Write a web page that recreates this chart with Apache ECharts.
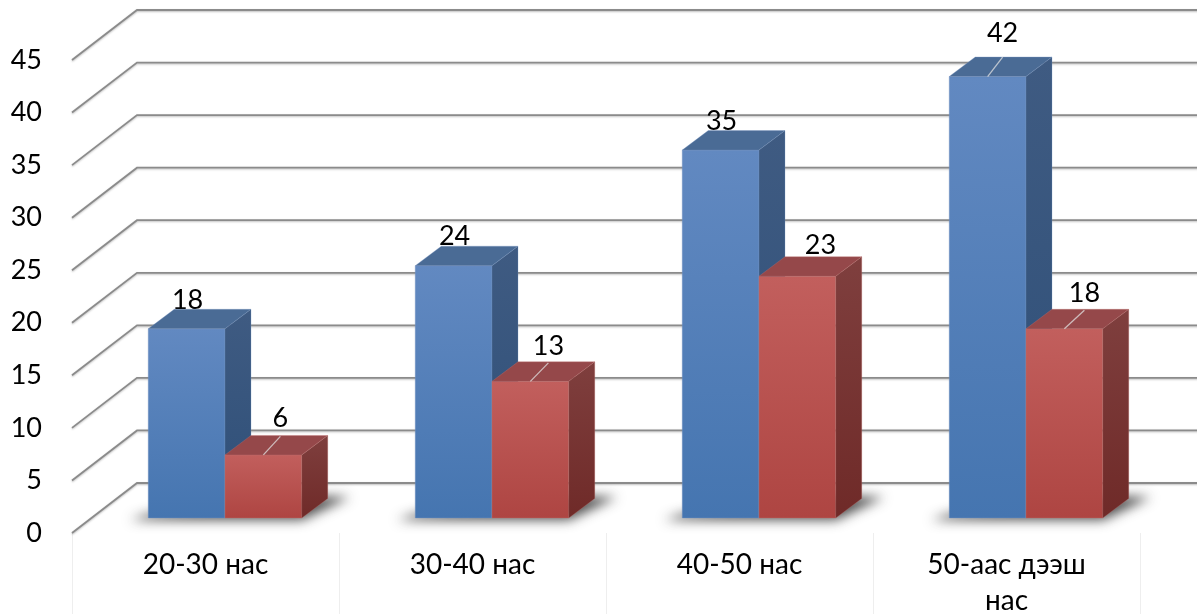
<!DOCTYPE html>
<html><head><meta charset="utf-8">
<style>html,body{margin:0;padding:0;background:#fff}#c{width:1197px;height:614px}</style>
<script src="https://cdn.jsdelivr.net/npm/echarts@6/dist/echarts.min.js"></script>
</head><body><div id="c"></div>
<script>
const categories = ['20-30 нас', '30-40 нас', '40-50 нас', '50-аас дээш\nнас'];
const blueValues = [18, 24, 35, 42];
const redValues = [6, 13, 23, 18];
const yTicks = [0, 5, 10, 15, 20, 25, 30, 35, 40, 45];

// [dx, dy, hasLeader] of each data label, relative to the bar's top-front-centre
const blueNudge = [[1, -29, 0], [1, -29, 0], [1, -29, 0], [15, -43, 1]];
const redNudge = [[17, -37, 1], [18, -35, 1], [23, -31, 0], [20, -36, 1]];

const FONT = 'Lato, "Open Sans"';
const WALL = [65, -50];     // floor depth: front edge -> back wall
const BAR_OFF = [19.5, -15];  // bars stand this far back from the front edge
const DEPTH = [26, -19.5];  // depth of a bar
const BAR_W = 0.2875;       // bar width as part of a category band
const FAR = 3000;           // the floor shadow's caster sits off-canvas, only its blur shows

const grad = (a, b) => new echarts.graphic.LinearGradient(0, 0, 0, 1, [{offset: 0, color: a}, {offset: 1, color: b}]);

function wallItem(params, api) {
  const p = api.coord([0, api.value(1)]);
  const x0 = params.coordSys.x, w = params.coordSys.width;
  return {type: 'polyline', silent: true, shape: {points: [[x0, p[1]], [x0 + WALL[0], p[1] + WALL[1]], [x0 + w + WALL[0], p[1] + WALL[1]]]},
    style: {stroke: '#8b8b8b', lineWidth: 1.8, fill: null, shadowColor: 'rgba(0,0,0,.25)', shadowBlur: 2, shadowOffsetY: 1}};
}
function shadowItem(params, api) {
  const p = api.coord([api.value(0), 0]);
  const bw = api.size([1, 0])[0] * BAR_W;
  const L = p[0] + BAR_OFF[0] - bw, R = p[0] + BAR_OFF[0] + bw, y = p[1] + BAR_OFF[1];
  const pts = [[L - 18, y + 2], [R, y + 2], [R + 48, y - 21], [R, y - 22], [L, y - 4]];
  return {type: 'polygon', silent: true, shape: {points: pts.map(q => [q[0] - FAR, q[1]])},
    style: {fill: '#000', shadowColor: 'rgba(60,60,60,.9)', shadowBlur: 12, shadowOffsetX: FAR}};
}
function barItem(colors, side, nudge) {
  return function (params, api) {
    const i = api.value(0), v = api.value(1);
    const c = api.coord([i, v]), b = api.coord([i, 0]);
    const bw = api.size([1, 0])[0] * BAR_W;
    const x0 = c[0] + BAR_OFF[0] + (side < 0 ? -bw : 0), x1 = x0 + bw;
    const yt = c[1] + BAR_OFF[1], yb = b[1] + BAR_OFF[1];
    const dx = DEPTH[0], dy = DEPTH[1];
    const n = nudge[params.dataIndex];
    const cx = (x0 + x1) / 2;
    const kids = [
      {type: 'text', silent: true, style: {x: cx + n[0], y: yt + n[1], text: String(v), font: '27px ' + FONT, fill: '#000', align: 'center', verticalAlign: 'middle'}},
      {type: 'rect', shape: {x: x0, y: yt, width: bw, height: yb - yt}, style: {fill: grad(colors.frontTop, colors.frontBottom), stroke: colors.edge, lineWidth: .6}},
      {type: 'polygon', shape: {points: [[x0, yt], [x0 + dx, yt + dy], [x1 + dx, yt + dy], [x1, yt]]}, style: {fill: colors.top, stroke: colors.edge, lineWidth: .5}},
      {type: 'polygon', shape: {points: [[x1, yt], [x1 + dx, yt + dy], [x1 + dx, yb + dy], [x1, yb]]}, style: {fill: grad(colors.sideTop, colors.sideBottom), stroke: colors.edge, lineWidth: .4}}
    ];
    if (n[2]) kids.push({type: 'line', silent: true, shape: {x1: cx, y1: yt, x2: cx + n[0], y2: yt + dy + (n[0] < 16 ? 0 : 1)},
      style: {stroke: 'rgba(225,225,225,.75)', lineWidth: 1.3}});
    return {type: 'group', children: kids};
  };
}
const blue = {frontTop: '#6289c1', frontBottom: '#4575b0', top: '#4a6b95', sideTop: '#3f5b82', sideBottom: '#2e4f78', edge: 'rgba(120,150,195,.7)'};
const red = {frontTop: '#c25f5d', frontBottom: '#ae4542', top: '#95484a', sideTop: '#7f3f3e', sideBottom: '#6f2a28', edge: 'rgba(190,110,108,.7)'};

const chart = echarts.init(document.getElementById('c'), null, {renderer: 'canvas'});
chart.setOption({
  animation: false,
  backgroundColor: '#fff',
  grid: {left: 72, right: 57, top: 60, bottom: 81, containLabel: false, outerBoundsMode: 'none'},
  xAxis: {type: 'category', data: categories, position: 'bottom',
    axisLine: {show: false},
    axisTick: {show: true, length: 81, lineStyle: {color: '#eeeeee', width: 1}},
    axisLabel: {margin: 14, fontFamily: FONT, fontSize: 28, color: '#000', lineHeight: 36, interval: 0, align: 'center'},
    splitLine: {show: false}},
  yAxis: {type: 'value', min: 0, max: 45, interval: 5,
    axisLine: {show: false}, axisTick: {show: false}, splitLine: {show: false},
    axisLabel: {margin: 30, fontFamily: FONT, fontSize: 27, color: '#000', padding: [8, 0, 0, 0]}},
  series: [
    {type: 'custom', z: 1, renderItem: wallItem, data: yTicks.map(t => [0, t]), encode: {x: 0, y: 1}},
    {type: 'custom', z: 2, renderItem: shadowItem, data: categories.map((_, i) => [i, 0]), encode: {x: 0, y: 1}},
    {type: 'custom', z: 3, renderItem: barItem(blue, -1, blueNudge), data: blueValues.map((v, i) => [i, v]), encode: {x: 0, y: 1}},
    {type: 'custom', z: 4, renderItem: barItem(red, 1, redNudge), data: redValues.map((v, i) => [i, v]), encode: {x: 0, y: 1}}
  ]
});
</script></body></html>
